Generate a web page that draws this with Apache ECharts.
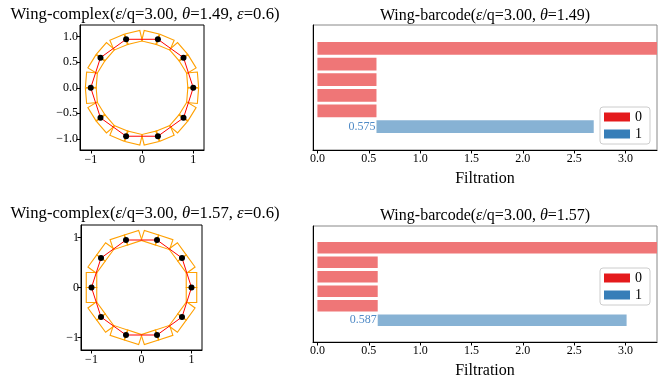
<!DOCTYPE html>
<html>
<head>
<meta charset="utf-8">
<script src="https://cdn.jsdelivr.net/npm/echarts@6/dist/echarts.min.js"></script>
<style>
  html, body { margin: 0; padding: 0; background: #fff; }
  #chart { width: 670px; height: 380px; }
</style>
</head>
<body>
<div id="chart"></div>
<script>
// points of the complex (both panels use the same ten points)
const pointsX = [1.00, 0.81, 0.31, -0.31, -0.81, -1.00, -0.81, -0.31, 0.31, 0.81];
const pointsY = [0.00, 0.59, 0.95, 0.95, 0.59, 0.00, -0.59, -0.95, -0.95, -0.59];
const wingEps = 0.6;
const wingThetas = [1.49, 1.57];

// barcodes
const topDim0Birth = [0, 0, 0, 0, 0];
const topDim0Death = [Infinity, 0.575, 0.575, 0.575, 0.575];
const topDim1Birth = [0.575];
const topDim1Death = [2.69];
const botDim0Birth = [0, 0, 0, 0, 0];
const botDim0Death = [Infinity, 0.587, 0.587, 0.587, 0.587];
const botDim1Birth = [0.587];
const botDim1Death = [3.01];

// ticks
const complexXTicks = [-1, 0, 1];
const complexYTicksTop = [-1, -0.5, 0, 0.5, 1];
const complexYTicksBot = [-1, 0, 1];
const filtrationTicks = [0, 0.5, 1, 1.5, 2, 2.5, 3];

const SERIF = '"Liberation Serif", "DejaVu Serif", serif';
const X_MAX = 3.306;
const minus = s => String(s).replace('-', '\u2212');

const myChart = echarts.init(document.getElementById('chart'));

// wing = two little quads at every point, along the tangent
const wingRenderer = (theta) => (params, api) => {
  const vx = api.value(0), vy = api.value(1);
  const phi = Math.atan2(vy, vx);
  const n = [Math.cos(phi), Math.sin(phi)];
  const t = [-Math.sin(phi), Math.cos(phi)];
  const dl = Math.PI / 2 - theta;
  const L = wingEps / 2, w = 0.105;
  const children = [1, -1].map(s => {
    const d = [s * Math.cos(dl) * t[0] - Math.sin(dl) * n[0], s * Math.cos(dl) * t[1] - Math.sin(dl) * n[1]];
    const m = [Math.cos(dl) * n[0] + s * Math.sin(dl) * t[0], Math.cos(dl) * n[1] + s * Math.sin(dl) * t[1]];
    const pts = [
      [vx + w * m[0], vy + w * m[1]],
      [vx + w * m[0] + L * d[0], vy + w * m[1] + L * d[1]],
      [vx - w * m[0] + L * d[0], vy - w * m[1] + L * d[1]],
      [vx - w * m[0], vy - w * m[1]]
    ].map(p => api.coord(p));
    return {
      type: 'polygon',
      shape: { points: pts },
      style: { fill: 'none', stroke: '#ffa000', lineWidth: 1.1 }
    };
  });
  return { type: 'group', children };
};

const barRenderer = (fill, withLabel) => (params, api) => {
  const a = api.coord([api.value(0), api.value(2)]);
  const b = api.coord([api.value(1), api.value(2)]);
  const h = api.size([0, 1])[1] * 0.81;
  const children = [{
    type: 'rect',
    shape: { x: a[0], y: a[1] - h / 2, width: b[0] - a[0], height: h },
    style: { fill }
  }];
  if (withLabel) {
    children.push({
      type: 'text',
      style: {
        text: api.value(0).toFixed(3), x: a[0] - 1, y: a[1],
        align: 'right', verticalAlign: 'middle',
        textAlign: 'right', textVerticalAlign: 'middle',
        fill: '#4f8ac6', font: '12px ' + SERIF
      }
    });
  }
  return { type: 'group', children };
};

const bars = (births, deaths, row0) =>
  births.map((b, i) => [b, deaths[i] === Infinity ? X_MAX : deaths[i], row0 + i]);

const complexPts = pointsX.map((x, i) => [x, pointsY[i]]);

const grids = [
  { left: 80, top: 25, width: 124, height: 125, show: true, borderColor: '#000', borderWidth: 1 },
  { left: 313, top: 25, width: 344, height: 125, show: true, borderColor: '#888', borderWidth: 1 },
  { left: 81, top: 225, width: 121, height: 125, show: true, borderColor: '#000', borderWidth: 1 },
  { left: 313, top: 226, width: 344, height: 124, show: true, borderColor: '#888', borderWidth: 1 }
];

const labelStyle = { color: '#000', fontFamily: SERIF, fontSize: 12 };
const complexX = (gi, lim) => ({
  type: 'value', gridIndex: gi, min: -lim, max: lim,
  axisLine: { onZero: false, lineStyle: { color: '#000' } },
  axisTick: { length: 3.5, lineStyle: { color: '#000' }, customValues: complexXTicks },
  axisLabel: { ...labelStyle, margin: 4, customValues: complexXTicks, formatter: v => minus(v) },
  splitLine: { show: false }
});
const complexY = (gi, lo, hi, ticks, dec) => ({
  type: 'value', gridIndex: gi, min: lo, max: hi,
  axisLine: { onZero: false, lineStyle: { color: '#000' } },
  axisTick: { length: 3.5, lineStyle: { color: '#000' }, customValues: ticks },
  axisLabel: { ...labelStyle, margin: 2, customValues: ticks, formatter: v => minus(v.toFixed(dec)) },
  splitLine: { show: false }
});
const filtX = gi => ({
  type: 'value', gridIndex: gi, min: -0.043, max: X_MAX,
  name: 'Filtration', nameLocation: 'middle', nameGap: 21,
  nameTextStyle: { color: '#000', fontFamily: SERIF, fontSize: 16 },
  axisLine: { onZero: false, lineStyle: { color: '#000' } },
  axisTick: { length: 3.5, lineStyle: { color: '#000' }, customValues: filtrationTicks },
  axisLabel: { ...labelStyle, margin: 3, customValues: filtrationTicks, formatter: v => v.toFixed(1) },
  splitLine: { show: false }
});
const rowY = gi => ({
  type: 'value', gridIndex: gi, min: -1.5, max: 6.5, inverse: true,
  axisLine: { show: true, onZero: false, lineStyle: { color: '#000' } },
  axisTick: { show: false }, axisLabel: { show: false }, splitLine: { show: false }
});

const series = [];
[0, 1].forEach(p => {
  const gc = 2 * p, gb = 2 * p + 1;
  series.push({
    type: 'custom', xAxisIndex: gc, yAxisIndex: gc, encode: { x: 0, y: 1 },
    data: complexPts, renderItem: wingRenderer(wingThetas[p]), silent: true, z: 1
  });
  series.push({
    type: 'line', xAxisIndex: gc, yAxisIndex: gc,
    data: complexPts.concat([complexPts[0]]), showSymbol: false,
    lineStyle: { color: '#ff0000', width: 1 }, z: 2
  });
  series.push({
    type: 'scatter', xAxisIndex: gc, yAxisIndex: gc, data: complexPts,
    symbolSize: 6, itemStyle: { color: '#000', opacity: 1 }, z: 3
  });
  const d0 = p === 0 ? bars(topDim0Birth, topDim0Death, 0) : bars(botDim0Birth, botDim0Death, 0);
  const d1 = p === 0 ? bars(topDim1Birth, topDim1Death, 5) : bars(botDim1Birth, botDim1Death, 5);
  series.push({
    name: '0', type: 'custom', xAxisIndex: gb, yAxisIndex: gb, encode: { x: [0, 1], y: 2 },
    data: d0, renderItem: barRenderer('#ef7677', false), itemStyle: { color: '#e41a1c' }, clip: true
  });
  series.push({
    name: '1', type: 'custom', xAxisIndex: gb, yAxisIndex: gb, encode: { x: [0, 1], y: 2 },
    data: d1, renderItem: barRenderer('#87b2d4', true), itemStyle: { color: '#377eb8' }, clip: true
  });
});

const legendBox = top => ({
  orient: 'vertical', right: 20, top,
  data: [{ name: '0', itemStyle: { color: '#e41a1c' } }, { name: '1', itemStyle: { color: '#377eb8' } }],
  icon: 'rect', itemWidth: 26, itemHeight: 9, itemGap: 3,
  padding: [3, 8, 3, 4], borderColor: '#ccc', borderWidth: 1, borderRadius: 3,
  backgroundColor: '#fff', selectedMode: false,
  textStyle: { color: '#000', fontFamily: SERIF, fontSize: 14 }
});

const titleText = (x, y, size, text) => ({
  type: 'text', x, y,
  style: {
    text,
    rich: {
      n: { font: size + 'px ' + SERIF, fill: '#000' },
      i: { font: 'italic ' + size + 'px ' + SERIF, fill: '#000' }
    },
    align: 'center', verticalAlign: 'middle',
    textAlign: 'center', textVerticalAlign: 'middle'
  }
});

const option = {
  animation: false,
  grid: grids,
  xAxis: [complexX(0, 1.21), filtX(1), complexX(2, 1.21), filtX(3)],
  yAxis: [complexY(0, -1.22, 1.23, complexYTicksTop, 1), rowY(1),
          complexY(2, -1.25, 1.25, complexYTicksBot, 0), rowY(3)],
  legend: [legendBox(107), legendBox(268)],
  graphic: [
    titleText(145, 15, 16.7, '{n|Wing-complex(}{i|ε}{n|/q=3.00, }{i|θ}{n|=1.49, }{i|ε}{n|=0.6)}'),
    titleText(485, 16, 16, '{n|Wing-barcode(}{i|ε}{n|/q=3.00, }{i|θ}{n|=1.49)}'),
    titleText(145, 214, 16.7, '{n|Wing-complex(}{i|ε}{n|/q=3.00, }{i|θ}{n|=1.57, }{i|ε}{n|=0.6)}'),
    titleText(485, 216, 16, '{n|Wing-barcode(}{i|ε}{n|/q=3.00, }{i|θ}{n|=1.57)}')
  ],
  series
};

myChart.setOption(option);
</script>
</body>
</html>
